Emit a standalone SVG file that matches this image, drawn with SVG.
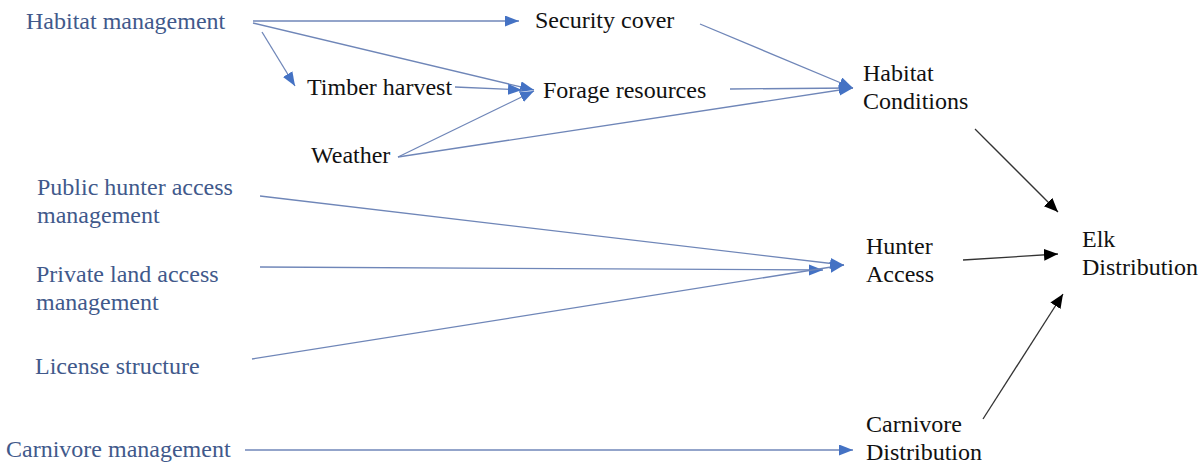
<svg xmlns="http://www.w3.org/2000/svg" width="1202" height="464" viewBox="0 0 1202 464">
<style>
text{font-size:24px}
.m{fill:#41598b}
.k{fill:#111}
.bl{stroke:#6f86b8;stroke-width:1.3;fill:none;marker-end:url(#ab)}
.kl{stroke:#333;stroke-width:1.3;fill:none;marker-end:url(#ak)}
</style>
<defs>
<marker id="ab" markerUnits="userSpaceOnUse" markerWidth="16" markerHeight="12" refX="14" refY="5.5" orient="auto"><path d="M0,0 L14,5.5 L0,11 z" fill="#4472c4"/></marker>
<marker id="ak" markerUnits="userSpaceOnUse" markerWidth="16" markerHeight="14" refX="14" refY="6" orient="auto"><path d="M0,0 L14,6 L0,12 z" fill="#000"/></marker>
</defs>
<rect width="1202" height="464" fill="#fff"/>
<g id="connectors">
<line class="bl" x1="253" y1="21" x2="519" y2="21"/>
<line class="bl" x1="262" y1="32" x2="295" y2="86"/>
<line class="bl" x1="253" y1="23" x2="534" y2="90"/>
<line class="bl" x1="455" y1="87" x2="522" y2="90"/>
<line class="bl" x1="398" y1="157" x2="534" y2="91"/>
<line class="bl" x1="398" y1="157" x2="853" y2="88"/>
<line class="bl" x1="700" y1="24" x2="853" y2="88"/>
<line class="bl" x1="730" y1="89" x2="853" y2="88"/>
<line class="bl" x1="260" y1="196" x2="844" y2="265"/>
<line class="bl" x1="260" y1="267" x2="823" y2="270"/>
<line class="bl" x1="252" y1="359" x2="844" y2="265"/>
<line class="bl" x1="245" y1="450" x2="853" y2="450"/>
<line class="kl" x1="975" y1="129" x2="1058" y2="212"/>
<line class="kl" x1="963" y1="260" x2="1058" y2="254"/>
<line class="kl" x1="983" y1="419" x2="1063" y2="294"/>
</g>
<g font-family="'Liberation Serif', 'DejaVu Serif', serif">
<g id="habitat-management"><text class="m" x="26" y="29">Habitat management</text></g>
<g id="security-cover"><text class="k" x="535" y="28">Security cover</text></g>
<g id="timber-harvest"><text class="k" x="307" y="95">Timber harvest</text></g>
<g id="forage-resources"><text class="k" x="543" y="98">Forage resources</text></g>
<g id="weather"><text class="k" x="311" y="163">Weather</text></g>
<g id="habitat-conditions"><text class="k" x="863" y="81">Habitat</text><text class="k" x="863" y="109">Conditions</text></g>
<g id="public-hunter-access"><text class="m" x="37" y="195">Public hunter access</text><text class="m" x="37" y="223">management</text></g>
<g id="private-land-access"><text class="m" x="36" y="282">Private land access</text><text class="m" x="36" y="310">management</text></g>
<g id="license-structure"><text class="m" x="35" y="374">License structure</text></g>
<g id="carnivore-management"><text class="m" x="6" y="457">Carnivore management</text></g>
<g id="hunter-access"><text class="k" x="866" y="254">Hunter</text><text class="k" x="866" y="282">Access</text></g>
<g id="elk-distribution"><text class="k" x="1082" y="247">Elk</text><text class="k" x="1082" y="275">Distribution</text></g>
<g id="carnivore-distribution"><text class="k" x="866" y="432">Carnivore</text><text class="k" x="866" y="460">Distribution</text></g>
</g>
</svg>
